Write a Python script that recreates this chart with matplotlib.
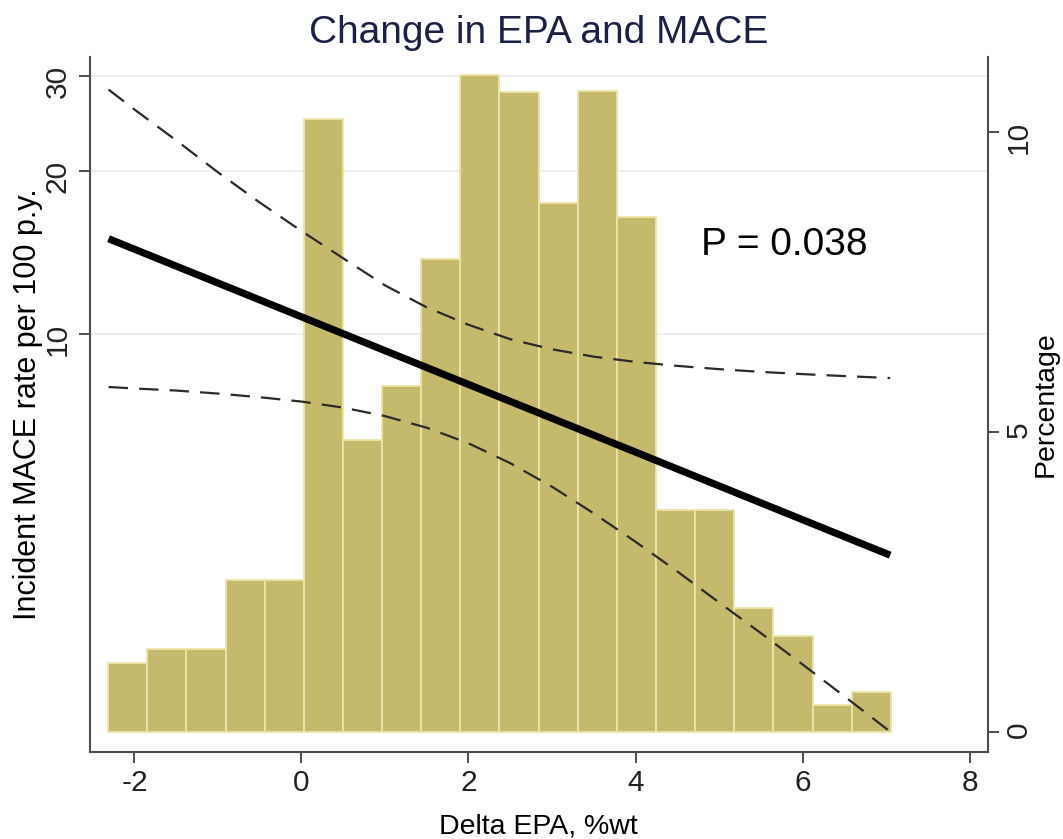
import numpy as np
import matplotlib as mpl
mpl.use("Agg")
import matplotlib.pyplot as plt
from matplotlib.ticker import NullLocator, NullFormatter

p = plt.rcParams
p['font.family'] = ['Liberation Sans', 'DejaVu Sans']
p['lines.scale_dashes'] = False

# histogram of delta EPA, percentage of patients per bin
bin_left = -2.315
bin_width = 0.4686
pct = [1.15, 1.385, 1.385, 2.54, 2.54, 10.22, 4.87, 5.77, 7.89, 10.94,
       10.67, 8.82, 10.68, 8.59, 3.70, 3.70, 2.07, 1.61, 0.46, 0.68]

# fitted incident MACE rate (per 100 p.y.) with 95% CI
fit_x = [-2.31, 7.05]
fit_rate = [15.0, 3.9]
ci_x = [-2.31, -2.0, -1.5, -1.0, -0.5, 0.0, 0.5, 1.0, 1.5, 2.0,
        2.5, 3.0, 3.5, 4.0, 4.5, 5.0, 5.5, 6.0, 6.5, 7.05]
ci_upper = [28.3, 26.0, 22.8, 19.9, 17.5, 15.5, 13.8, 12.3, 11.2, 10.4,
            9.78, 9.37, 9.08, 8.88, 8.73, 8.61, 8.51, 8.43, 8.36, 8.29]
ci_lower = [7.98, 7.93, 7.86, 7.76, 7.64, 7.50, 7.31, 7.05, 6.71, 6.28,
            5.77, 5.22, 4.66, 4.13, 3.64, 3.19, 2.80, 2.45, 2.14, 1.84]

rate_ticks = [10, 20, 30]
pct_ticks = [0, 5, 10]
x_ticks = [-2, 0, 2, 4, 6, 8]

axis_col = '#4d4d4d'
text_col = '#222222'
bar_col = '#c5b96c'
bar_edge = '#ece4a8'
tick_fs = 21.5

fig = plt.figure(figsize=(10.63, 8.39), dpi=100)
ax = fig.add_axes([0.0843, 0.1031, 0.8449, 0.8293])

# log axis (left) - grid + ticks
ax.set_xlim(-2.537, 8.218)
ax.set_yscale('log')
ax.set_ylim(1.684, 32.55)
ax.yaxis.set_minor_locator(NullLocator())
ax.yaxis.set_minor_formatter(NullFormatter())
ax.set_yticks(rate_ticks, [str(t) for t in rate_ticks])
ax.set_xticks(x_ticks, [str(t) for t in x_ticks])
ax.grid(axis='y', color='#eeeeee', lw=1.5)
ax.set_axisbelow(True)
for s in ['top', 'right']:
    ax.spines[s].set_visible(False)
for s in ['left', 'bottom']:
    ax.spines[s].set_color(axis_col)
    ax.spines[s].set_linewidth(1.5)
ax.tick_params(axis='both', direction='out', length=8, width=1.4,
               color=axis_col, labelcolor=text_col, labelsize=tick_fs)
ax.tick_params(axis='y', labelrotation=90, pad=5)
ax.tick_params(axis='x', pad=4)
ax.set_xlabel('Delta EPA, %wt', fontsize=20.5, color='black')
ax.xaxis.set_label_coords(0.5, -0.087)
ax.set_ylabel('Incident MACE rate per 100 p.y.', fontsize=22,
              color='black')
ax.yaxis.set_label_coords(-0.052, 0.5)

# percentage axis (right) - histogram
axp = ax.twinx()
edges = bin_left + bin_width * np.arange(len(pct))
axp.bar(edges, pct, width=bin_width, align='edge', color=bar_col,
        edgecolor=bar_edge, linewidth=1.3)
axp.set_ylim(-0.333, 11.25)
axp.set_yticks(pct_ticks, [str(t) for t in pct_ticks])
for s in ['top', 'left', 'bottom']:
    axp.spines[s].set_visible(False)
axp.spines['right'].set_color(axis_col)
axp.spines['right'].set_linewidth(1.5)
axp.tick_params(axis='y', direction='out', length=8, width=1.4,
                color=axis_col, labelcolor=text_col, labelsize=tick_fs,
                labelrotation=90, pad=4)
axp.set_ylabel('Percentage', fontsize=20.5, color='black')
axp.yaxis.set_label_coords(1.050, 0.5)

# fitted line and CI on top
axl = ax.twinx()
axl.set_yscale('log')
axl.set_ylim(ax.get_ylim())
axl.axis('off')
axl.plot(ci_x, ci_upper, color='#2a2a2a', lw=1.6, dashes=(14, 8))
axl.plot(ci_x, ci_lower, color='#2a2a2a', lw=1.6, dashes=(14, 8))
axl.plot(fit_x, fit_rate, color='black', lw=5.2, solid_capstyle='butt')
axl.text(4.78, 14.0, 'P = 0.038', fontsize=28, color='black',
         ha='left', va='baseline')

ax.set_title('Change in EPA and MACE', fontsize=28, color='#1b2144', pad=10)

fig.savefig('out.png', dpi=100, facecolor='white')
